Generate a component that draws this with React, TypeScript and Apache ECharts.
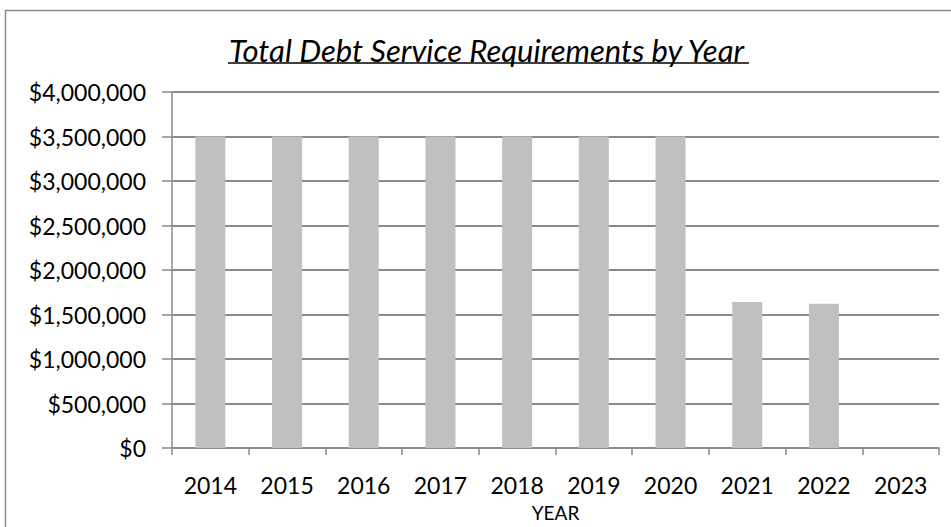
import React, { useEffect, useRef } from "react";
import * as echarts from "echarts";

const categories = ["2014", "2015", "2016", "2017", "2018", "2019", "2020", "2021", "2022", "2023"];
const debtService = [3500000, 3500000, 3500000, 3500000, 3500000, 3500000, 3500000, 1640000, 1620000, 0];
const chartTitle = "Total Debt Service Requirements by Year";
const xAxisName = "YEAR";

const FONT = "Lato, 'Open Sans', sans-serif";

export default function App() {
  const ref = useRef<HTMLDivElement>(null);
  useEffect(() => {
    document.body.style.margin = "0";
    const chart = echarts.init(ref.current!, undefined, { renderer: "svg" });
    chart.setOption({
      animation: false,
      backgroundColor: "#ffffff",
      title: {
        text: chartTitle,
        left: 224,
        top: 29,
        textStyle: {
          fontFamily: FONT,
          fontSize: 31,
          fontStyle: "italic",
          fontWeight: "normal",
          color: "#000",
        },
      },
      graphic: [
        {
          type: "rect",
          shape: { x: 5.5, y: 10.5, width: 960, height: 540 },
          style: { fill: "none", stroke: "#8c8c8c", lineWidth: 1.5 },
          silent: true,
        },
        {
          type: "line",
          shape: { x1: 228, y1: 63, x2: 749, y2: 63 },
          style: { stroke: "#000", lineWidth: 1.5 },
          silent: true,
        },
      ],
      grid: { left: 172, right: 12, top: 92, bottom: 77 },
      xAxis: {
        type: "category",
        data: categories,
        name: xAxisName,
        nameLocation: "middle",
        nameGap: 55,
        nameTextStyle: { fontFamily: FONT, fontSize: 19, color: "#000" },
        axisLine: { lineStyle: { color: "#8a8a8a", width: 1.5 } },
        axisTick: { show: true, length: 7, lineStyle: { color: "#8a8a8a", width: 1.5 } },
        axisLabel: { fontFamily: FONT, fontSize: 23, color: "#000", margin: 25 },
        splitLine: { show: false },
      },
      yAxis: {
        type: "value",
        min: 0,
        max: 4000000,
        interval: 500000,
        axisLine: { show: true, lineStyle: { color: "#8a8a8a", width: 1.5 } },
        axisTick: { show: true, length: 10, lineStyle: { color: "#8a8a8a", width: 1.5 } },
        axisLabel: {
          fontFamily: FONT,
          fontSize: 23,
          color: "#000",
          margin: 26,
          formatter: (v: number) => "$" + v.toLocaleString("en-US"),
        },
        splitLine: { show: true, lineStyle: { color: "#8a8a8a", width: 2 } },
      },
      series: [
        {
          type: "bar",
          data: debtService,
          barWidth: 30,
          itemStyle: { color: "#c0c0c0" },
        },
      ],
    });
    return () => chart.dispose();
  }, []);
  return <div ref={ref} style={{ width: 951, height: 527 }} />;
}
